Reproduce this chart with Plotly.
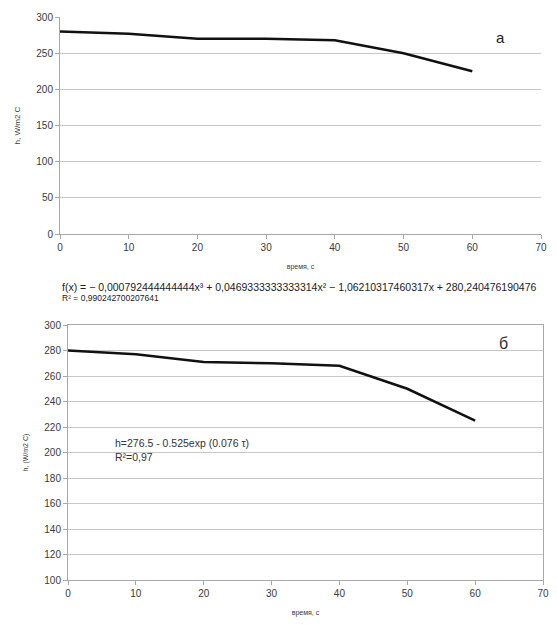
import plotly.graph_objects as go

# data
t_top = [0, 10, 20, 30, 40, 50, 60]
h_top = [280, 277, 270, 270, 268, 250, 225]
t_bot = [0, 10, 20, 30, 40, 50, 60]
h_bot = [280, 277, 271, 270, 268, 250, 225]
x_ticks = [0, 10, 20, 30, 40, 50, 60, 70]
y_ticks_top = [0, 50, 100, 150, 200, 250, 300]
y_ticks_bot = [100, 120, 140, 160, 180, 200, 220, 240, 260, 280, 300]

eq_text = ("f(x) = − 0,000792444444444x³ + 0,0469333333333314x² − 1,06210317460317x + 280,240476190476")
r2_text = "R² = 0,990242700207641"
fit_text = "h=276.5 - 0.525exp (0.076 τ)<br>R²=0,97"

W, H = 557, 625
FONT = "Liberation Sans"
TXT = "#3a3a3a"
GRID = "#c8c8c8"

def dom_x(l, r):
    return [l / W, r / W]

def dom_y(top, bottom):
    return [1 - bottom / H, 1 - top / H]

fig = go.Figure()
fig.add_trace(go.Scatter(x=t_top, y=h_top, mode="lines", line=dict(color="#111111", width=2.5),
                         xaxis="x", yaxis="y", showlegend=False))
fig.add_trace(go.Scatter(x=t_bot, y=h_bot, mode="lines", line=dict(color="#111111", width=2.5),
                         xaxis="x2", yaxis="y2", showlegend=False))

axis_common = dict(showgrid=True, gridcolor=GRID, gridwidth=1, zeroline=False,
                   showline=True, linecolor="#a8a8a8", linewidth=1,
                   ticks="outside", ticklen=4, tickcolor="#a8a8a8",
                   tickfont=dict(family=FONT, size=10, color=TXT), automargin=False)

fig.update_layout(
    width=W, height=H, margin=dict(l=0, r=0, t=0, b=0),
    paper_bgcolor="white", plot_bgcolor="white",
    font=dict(family=FONT, color=TXT),
    xaxis=dict(domain=dom_x(60, 541), range=[0, 70], tickvals=x_ticks, anchor="y",
               showgrid=False, title=dict(text="время, с", font=dict(size=7, color=TXT), standoff=12),
               **{k: v for k, v in axis_common.items() if k != "showgrid"}),
    yaxis=dict(domain=dom_y(17, 234), range=[0, 300], tickvals=y_ticks_top, anchor="x",
               title=dict(text="h, W/m2 C", font=dict(size=8, color=TXT), standoff=14),
               **axis_common),
    xaxis2=dict(domain=dom_x(68, 543), range=[0, 70], tickvals=x_ticks, anchor="y2",
                showgrid=False, title=dict(text="время, с", font=dict(size=7, color=TXT), standoff=12),
                mirror=True,
                **{k: v for k, v in axis_common.items() if k != "showgrid"}),
    yaxis2=dict(domain=dom_y(325, 580), range=[100, 300], tickvals=y_ticks_bot, anchor="x2",
                title=dict(text="h, (W/m2 C)", font=dict(size=7, color=TXT), standoff=14),
                mirror=True,
                **axis_common),
)

fig.add_annotation(xref="paper", yref="paper", x=500 / W, y=1 - 38 / H, text="а", showarrow=False,
                   font=dict(family=FONT, size=15, color="#222222"), xanchor="center", yanchor="middle")
fig.add_annotation(xref="paper", yref="paper", x=503 / W, y=1 - 343 / H, text="б", showarrow=False,
                   font=dict(family=FONT, size=16, color="#333333"), xanchor="center", yanchor="middle")
fig.add_annotation(xref="paper", yref="paper", x=60 / W, y=1 - 287 / H, text=eq_text, showarrow=False,
                   font=dict(family=FONT, size=10.5, color="#222222"), xanchor="left", yanchor="middle")
fig.add_annotation(xref="paper", yref="paper", x=60 / W, y=1 - 298 / H, text=r2_text, showarrow=False,
                   font=dict(family=FONT, size=8.5, color="#222222"), xanchor="left", yanchor="middle")
fig.add_annotation(xref="paper", yref="paper", x=113 / W, y=1 - 450 / H, text=fit_text, showarrow=False,
                   align="left", font=dict(family=FONT, size=10.5, color="#333333"),
                   xanchor="left", yanchor="middle")

fig.write_html("out.html")
